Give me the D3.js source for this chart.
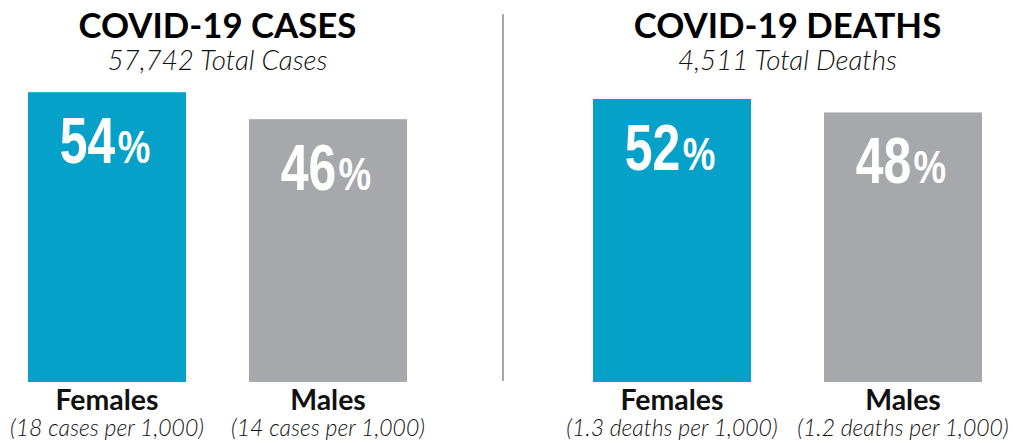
<!DOCTYPE html>
<html><head><meta charset="utf-8">
<script src="https://cdn.jsdelivr.net/npm/d3@7"></script>
<style>body{margin:0;background:#fff} svg{display:block}</style>
</head><body>
<svg id="c" width="1013" height="443"></svg>
<script>
// ---- data ----
const panelTitles = ["COVID-19 CASES", "COVID-19 DEATHS"];
const panelTotals = ["57,742 Total Cases", "4,511 Total Deaths"];
const categories = ["Females", "Males"];
const casesPct = [54, 46];
const deathsPct = [52, 48];
const casesRates = ["(18 cases per 1,000)", "(14 cases per 1,000)"];
const deathsRates = ["(1.3 deaths per 1,000)", "(1.2 deaths per 1,000)"];

// ---- layout ----
const svg = d3.select("#c");
const colors = {Females: "#05a1c8", Males: "#a7a8ac"};
const y = d3.scaleLinear().domain([-32, 60]).range([382, 72]);
const FONT = "Lato, 'Open Sans', sans-serif";

const panels = [
  {title: panelTitles[0], total: panelTotals[0], values: casesPct, rates: casesRates, range: [28, 407], pad: 0.285},
  {title: panelTitles[1], total: panelTotals[1], values: deathsPct, rates: deathsRates, range: [593, 982], pad: 0.316}
];

function fitSize(text, weight, style, target, base) {
  const t = svg.append("text").style("font-family", FONT).style("font-weight", weight)
    .style("font-style", style).style("font-size", base + "px").text(text);
  const w = t.node().getComputedTextLength();
  t.remove();
  return base * target / w;
}
// common sizes per text class (fitted to reference widths)
const titleSize = fitSize(panelTitles[0], 700, "normal", 278, 32);
const totalSize = fitSize(panelTotals[0], 300, "italic", 220, 23);
const catSize = fitSize(categories[0], 700, "normal", 103, 20);
const rateSize = fitSize(casesRates[0], 300, "italic", 194, 19);

panels.forEach(p => {
  const x = d3.scaleBand().domain(categories).range(p.range).paddingInner(p.pad).paddingOuter(0);
  const cx = (p.range[0] + p.range[1]) / 2;
  const g = svg.append("g");

  g.append("text").attr("x", cx).attr("y", 38).attr("text-anchor", "middle")
    .style("font-family", FONT).style("font-weight", 700).style("font-size", titleSize + "px")
    .style("fill", "#000").text(p.title);

  g.append("text").attr("x", cx).attr("y", 70).attr("text-anchor", "middle")
    .style("font-family", FONT).style("font-weight", 300).style("font-size", totalSize + "px")
    .style("font-style", "italic").style("fill", "#111").text(p.total);

  const data = categories.map((c, i) => ({cat: c, v: p.values[i], rate: p.rates[i], i}));

  g.selectAll("rect").data(data).join("rect")
    .attr("x", d => x(d.cat)).attr("width", x.bandwidth())
    .attr("y", d => y(d.v)).attr("height", d => y.range()[0] - y(d.v))
    .attr("fill", d => colors[d.cat]);

  const pct = g.selectAll("text.pct").data(data).join("text").attr("class", "pct")
    .attr("transform", d => `translate(${x(d.cat) + x.bandwidth() / 2 - 2},${y(d.v) + 71}) scale(0.78,1)`)
    .attr("text-anchor", "middle")
    .style("font-family", "'Liberation Sans', Arial, sans-serif")
    .style("font-weight", 700).style("fill", "#fff");
  pct.append("tspan").style("font-size", "64px").text(d => d.v);
  pct.append("tspan").style("font-size", "47px").attr("dx", 3).text("%");

  g.selectAll("text.cat").data(data).join("text").attr("class", "cat")
    .attr("x", d => x(d.cat) + x.bandwidth() / 2).attr("y", 410)
    .attr("text-anchor", "middle")
    .style("font-family", FONT).style("font-weight", 700).style("font-size", catSize + "px")
    .style("fill", "#111").text(d => d.cat);

  g.selectAll("text.rate").data(data).join("text").attr("class", "rate")
    .attr("x", d => x(d.cat) + x.bandwidth() / 2).attr("y", 436)
    .attr("text-anchor", "middle")
    .style("font-family", FONT).style("font-weight", 300).style("font-size", rateSize + "px")
    .style("font-style", "italic").style("fill", "#111").text(d => d.rate);
});

// divider
svg.append("line").attr("x1", 503).attr("x2", 503).attr("y1", 14).attr("y2", 381)
  .attr("stroke", "#a7a8ac").attr("stroke-width", 2);
</script>
</body></html>
